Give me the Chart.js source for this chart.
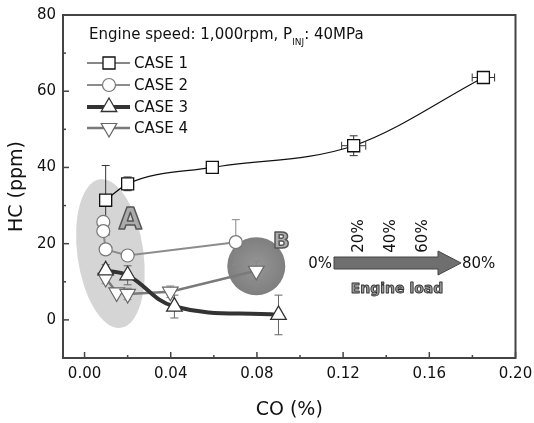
<!DOCTYPE html>
<html>
<head>
<meta charset="utf-8">
<script src="https://cdn.jsdelivr.net/npm/chart.js@4.4.1/dist/chart.umd.min.js"></script>
<style>
  html, body { margin: 0; padding: 0; background: #fff; overflow: hidden; }
  #wrap { width: 534px; height: 423px; }
</style>
</head>
<body>
<div id="wrap"><canvas id="chart1"></canvas></div>
<script>
const seriesNames = ['CASE 1', 'CASE 2', 'CASE 3', 'CASE 4'];

const case1CO = [0.0098, 0.0200, 0.0593, 0.1249, 0.1851];
const case1HC = [31.4, 35.7, 40.0, 45.7, 63.6];
const case1HCErr = [9.1, 1.8, 0.6, 2.6, 1.0];
const case1COErr = [0, 0, 0.0015, 0.0056, 0.0052];

const case2CO = [0.0087, 0.0087, 0.0098, 0.0200, 0.0702];
const case2HC = [25.7, 23.3, 18.5, 16.9, 20.4];
const case2HCErr = [0, 0, 0, 0, 5.9];

const case3CO = [0.0098, 0.0200, 0.0417, 0.0900];
const case3HC = [13.0, 11.7, 3.5, 1.3];
const case3HCErr = [1.5, 2.5, 3.0, 5.2];

const case4CO = [0.0098, 0.0149, 0.0200, 0.0398, 0.0797];
const case4HC = [11.0, 7.2, 6.8, 7.4, 12.9];
const case4HCErr = [1.5, 0, 1.5, 1.5, 2.5];

const xTickVals = [0, 0.04, 0.08, 0.12, 0.16, 0.20];
const xMinorVals = [0.02, 0.06, 0.10, 0.14, 0.18];
const yTickVals = [0, 20, 40, 60, 80];
const yMinorVals = [10, 30, 50, 70];

const loadLabels = ['0%', '20%', '40%', '60%', '80%'];

const fam = 'DejaVu Sans';
const hcErr = [case1HCErr, case2HCErr, case3HCErr, case4HCErr];
const coErr = [case1COErr, [], [], []];
const errColors = ['#333', '#888', '#666', '#888'];

function pts(xs, ys) { return xs.map((x, i) => ({ x: x, y: ys[i] })); }

function seg(ctx, x1, y1, x2, y2) {
  ctx.beginPath(); ctx.moveTo(x1, y1); ctx.lineTo(x2, y2); ctx.stroke();
}

// shaded regions A and B, drawn under everything
const regions = {
  id: 'regions',
  beforeDatasetsDraw(chart) {
    const ctx = chart.ctx, sx = chart.scales.x, sy = chart.scales.y;
    ctx.save();
    // ellipse A
    const ax = sx.getPixelForValue(0.012), ay = sy.getPixelForValue(17.4);
    ctx.beginPath();
    ctx.ellipse(ax, ay, 33, 75, -8 * Math.PI / 180, 0, Math.PI * 2);
    ctx.fillStyle = '#d5d5d5';
    ctx.fill();
    // circle B
    const bx = sx.getPixelForValue(0.0797), by = sy.getPixelForValue(14.1);
    const g = ctx.createRadialGradient(bx, by, 5, bx, by, 29);
    g.addColorStop(0, '#929292');
    g.addColorStop(1, '#7f7f7f');
    ctx.beginPath();
    ctx.arc(bx, by, 29, 0, Math.PI * 2);
    ctx.fillStyle = g;
    ctx.fill();
    // letters
    ctx.textAlign = 'center'; ctx.textBaseline = 'middle';
    ctx.lineJoin = 'round';
    ctx.font = 'bold 30px "' + fam + '"';
    ctx.fillStyle = '#ababab'; ctx.strokeStyle = '#555'; ctx.lineWidth = 1.5;
    ctx.fillText('A', ax + 20, ay - 32);
    ctx.strokeText('A', ax + 20, ay - 32);
    ctx.font = 'bold 22px "' + fam + '"';
    ctx.fillText('B', bx + 25, by - 24);
    ctx.strokeText('B', bx + 25, by - 24);

    // engine load arrow
    const a = chart.chartArea;
    const y0 = a.top + 248;
    ctx.beginPath();
    ctx.moveTo(334, y0 - 6); ctx.lineTo(438, y0 - 6); ctx.lineTo(438, y0 - 12);
    ctx.lineTo(461, y0); ctx.lineTo(438, y0 + 12); ctx.lineTo(438, y0 + 6);
    ctx.lineTo(334, y0 + 6); ctx.closePath();
    ctx.fillStyle = '#6f6f6f'; ctx.fill();
    ctx.strokeStyle = '#444'; ctx.lineWidth = 1; ctx.stroke();
    ctx.fillStyle = '#111';
    ctx.font = '15px "' + fam + '"';
    ctx.textAlign = 'right';
    ctx.fillText(loadLabels[0], 332, y0 + 1);
    ctx.textAlign = 'left';
    ctx.fillText(loadLabels[4], 462, y0 + 1);
    [358, 390, 422].forEach((x, i) => {
      ctx.save();
      ctx.translate(x, y0 - 27);
      ctx.rotate(-Math.PI / 2);
      ctx.textAlign = 'center';
      ctx.fillText(loadLabels[i + 1], 0, 1);
      ctx.restore();
    });
    ctx.textAlign = 'center';
    ctx.font = 'bold 14px "' + fam + '"';
    ctx.fillStyle = '#9a9a9a'; ctx.strokeStyle = '#333'; ctx.lineWidth = 0.9;
    ctx.fillText('Engine load', 397, y0 + 26);
    ctx.strokeText('Engine load', 397, y0 + 26);
    ctx.restore();
  }
};

const errBars = {
  id: 'errBars',
  beforeDatasetsDraw(chart) {
    const ctx = chart.ctx, sx = chart.scales.x, sy = chart.scales.y;
    ctx.save();
    ctx.lineWidth = 1;
    chart.data.datasets.forEach((ds, i) => {
      ctx.strokeStyle = errColors[i];
      ds.data.forEach((p, j) => {
        const cx = sx.getPixelForValue(p.x), cy = sy.getPixelForValue(p.y);
        const ye = hcErr[i][j] || 0, xe = coErr[i][j] || 0;
        if (ye) {
          const t = sy.getPixelForValue(p.y + ye), b = sy.getPixelForValue(p.y - ye);
          seg(ctx, cx, t, cx, b);
          seg(ctx, cx - 4, t, cx + 4, t);
          seg(ctx, cx - 4, b, cx + 4, b);
        }
        if (xe) {
          const l = sx.getPixelForValue(p.x - xe), r = sx.getPixelForValue(p.x + xe);
          seg(ctx, l, cy, r, cy);
          seg(ctx, l, cy - 4, l, cy + 4);
          seg(ctx, r, cy - 4, r, cy + 4);
        }
      });
    });
    ctx.restore();
  }
};

// frame, inward ticks, legend and header text
const frame = {
  id: 'frame',
  afterDatasetsDraw(chart) {
    const ctx = chart.ctx, a = chart.chartArea, sx = chart.scales.x, sy = chart.scales.y;
    ctx.save();
    ctx.strokeStyle = '#444'; ctx.lineWidth = 2;
    ctx.strokeRect(a.left, a.top, a.right - a.left, a.bottom - a.top);
    ctx.lineWidth = 1.5;
    xTickVals.forEach(v => { const x = sx.getPixelForValue(v); seg(ctx, x, a.bottom, x, a.bottom - 6); });
    xMinorVals.forEach(v => { const x = sx.getPixelForValue(v); seg(ctx, x, a.bottom, x, a.bottom - 3); });
    yTickVals.forEach(v => { const y = sy.getPixelForValue(v); seg(ctx, a.left, y, a.left + 6, y); });
    yMinorVals.forEach(v => { const y = sy.getPixelForValue(v); seg(ctx, a.left, y, a.left + 3, y); });

    // header
    ctx.fillStyle = '#111';
    ctx.textBaseline = 'alphabetic';
    ctx.textAlign = 'left';
    ctx.font = '15px "' + fam + '"';
    let x = 89;
    const base = 39;
    const head = 'Engine speed: 1,000rpm, P';
    ctx.fillText(head, x, base);
    x += ctx.measureText(head).width;
    ctx.font = '9px "' + fam + '"';
    ctx.fillText('INJ', x, base + 6);
    x += ctx.measureText('INJ').width;
    ctx.font = '15px "' + fam + '"';
    ctx.fillText(': 40MPa', x, base);

    // legend
    const rows = [63, 85, 107, 128];
    ctx.textBaseline = 'middle';
    chart.data.datasets.forEach((ds, i) => {
      const y = rows[i];
      ctx.strokeStyle = ds.borderColor; ctx.lineWidth = ds.borderWidth;
      seg(ctx, 87, y, 130, y);
      ctx.fillStyle = '#fff'; ctx.strokeStyle = ds.pointBorderColor; ctx.lineWidth = ds.pointBorderWidth;
      Chart.helpers.drawPoint(ctx, {
        pointStyle: ds.pointStyle, rotation: ds.pointRotation || 0,
        radius: ds.pointRadius, borderWidth: ds.pointBorderWidth
      }, 109, y);
      ctx.fillStyle = '#111';
      ctx.fillText(ds.label, 134, y + 1);
    });
    ctx.restore();
  }
};

const ctx = document.getElementById('chart1').getContext('2d');
let myChart = new Chart(ctx, {
  type: 'scatter',
  data: {
    datasets: [{
      label: seriesNames[0],
      data: pts(case1CO, case1HC),
      showLine: true, cubicInterpolationMode: 'monotone',
      borderColor: '#111', borderWidth: 1.2,
      pointStyle: 'rect', pointRadius: 8.5,
      pointBackgroundColor: '#fff', pointBorderColor: '#111', pointBorderWidth: 1.3
    }, {
      label: seriesNames[1],
      data: pts(case2CO, case2HC),
      showLine: true, tension: 0,
      borderColor: '#8c8c8c', borderWidth: 2,
      pointStyle: 'circle', pointRadius: 6.5,
      pointBackgroundColor: '#fff', pointBorderColor: '#777', pointBorderWidth: 1.2
    }, {
      label: seriesNames[2],
      data: pts(case3CO, case3HC),
      showLine: true, tension: 0.4,
      borderColor: '#333', borderWidth: 4,
      pointStyle: 'triangle', pointRadius: 9,
      pointBackgroundColor: '#fff', pointBorderColor: '#333', pointBorderWidth: 1.3
    }, {
      label: seriesNames[3],
      data: pts(case4CO, case4HC),
      showLine: true, tension: 0,
      borderColor: '#7a7a7a', borderWidth: 2.5,
      pointStyle: 'triangle', pointRotation: 180, pointRadius: 9,
      pointBackgroundColor: '#fff', pointBorderColor: '#666', pointBorderWidth: 1.2
    }]
  },
  options: {
    responsive: true, maintainAspectRatio: false, animation: false,
    layout: { padding: { top: 15, right: 18.5, left: 0, bottom: 0 } },
    plugins: { legend: { display: false }, tooltip: { enabled: false } },
    scales: {
      x: {
        type: 'linear', min: -0.01, max: 0.20,
        afterBuildTicks: s => { s.ticks = xTickVals.map(v => ({ value: v })); },
        afterFit: s => { s.height = 65; s.paddingLeft = 0; s.paddingRight = 0; },
        grid: { display: false, drawTicks: false }, border: { display: false },
        ticks: { padding: 7, autoSkip: false, maxRotation: 0, color: '#111',
          font: { family: fam, size: 15 }, callback: v => v.toFixed(2) },
        title: { display: true, text: 'CO (%)', color: '#111',
          font: { family: fam, size: 19 }, padding: { top: 0, bottom: 2 } }
      },
      y: {
        type: 'linear', min: -10, max: 80,
        afterBuildTicks: s => { s.ticks = yTickVals.map(v => ({ value: v })); },
        afterFit: s => { s.width = 63; s.paddingTop = 0; s.paddingBottom = 0; },
        grid: { display: false, drawTicks: false }, border: { display: false },
        ticks: { padding: 7, color: '#111', font: { family: fam, size: 15 } },
        title: { display: true, text: 'HC (ppm)', color: '#111',
          font: { family: fam, size: 19 }, padding: { top: 6, bottom: 0 } }
      }
    }
  },
  plugins: [regions, errBars, frame]
});
</script>
</body>
</html>
